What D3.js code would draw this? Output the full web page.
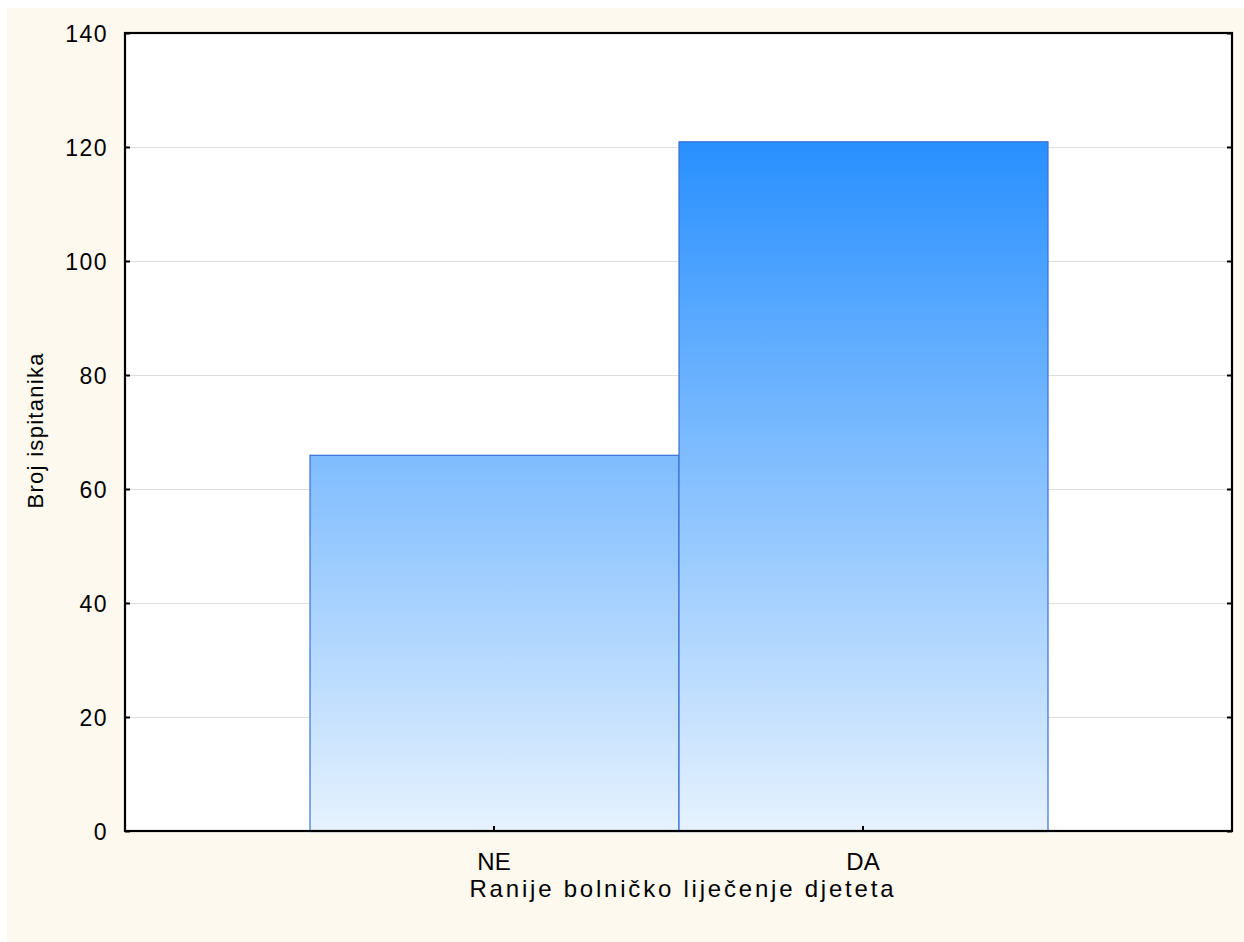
<!DOCTYPE html>
<html>
<head>
<meta charset="utf-8">
<script src="https://cdn.jsdelivr.net/npm/d3@7"></script>
<style>
  html, body { margin: 0; padding: 0; background: #ffffff; }
  svg { display: block; }
  text { font-family: "Liberation Sans", Arial, sans-serif; fill: #000; }
</style>
</head>
<body>
<svg id="chart" width="1244" height="942"></svg>
<script>
// ---- data ----
const categories = ["NE", "DA"];
const counts = [66, 121];
const yTicks = [0, 20, 40, 60, 80, 100, 120, 140];
const xTitle = "Ranije bolničko liječenje djeteta";
const yTitle = "Broj ispitanika";

// ---- layout ----
const W = 1244, H = 942;
const plot = { left: 125, top: 33, right: 1232, bottom: 831 };

const svg = d3.select("#chart");

// cream page background
svg.append("rect").attr("x", 7).attr("y", 8).attr("width", W - 7).attr("height", H - 8)
  .attr("fill", "#fdf9ee");

// plot area
svg.append("rect").attr("x", plot.left).attr("y", plot.top)
  .attr("width", plot.right - plot.left).attr("height", plot.bottom - plot.top)
  .attr("fill", "#ffffff");

const x = d3.scaleBand().domain(categories)
  .range([plot.left, plot.right]).paddingInner(0).paddingOuter(0.5);
const y = d3.scaleLinear().domain([0, 140]).range([plot.bottom, plot.top]);

// gradient
const defs = svg.append("defs");
const grad = defs.append("linearGradient").attr("id", "barGrad")
  .attr("gradientUnits", "userSpaceOnUse")
  .attr("x1", 0).attr("x2", 0).attr("y1", y(0)).attr("y2", y(140));
grad.append("stop").attr("offset", "0%").attr("stop-color", "#e6f2fe");
grad.append("stop").attr("offset", "100%").attr("stop-color", "#0a80ff");

// grid lines
svg.append("g").selectAll("line").data(yTicks.filter(d => d > 0 && d < 140)).join("line")
  .attr("x1", plot.left).attr("x2", plot.right)
  .attr("y1", d => Math.round(y(d)) + 0.5).attr("y2", d => Math.round(y(d)) + 0.5)
  .attr("stroke", "#dedede").attr("stroke-width", 1);

// bars
svg.append("g").selectAll("rect").data(categories).join("rect")
  .attr("x", d => x(d) + 0.5)
  .attr("y", (d, i) => y(counts[i]) + 0.5)
  .attr("width", x.bandwidth())
  .attr("height", (d, i) => y(0) - y(counts[i]))
  .attr("fill", "url(#barGrad)")
  .attr("stroke", "#3a6fd9").attr("stroke-width", 1.2);

// frame
svg.append("rect").attr("x", plot.left).attr("y", plot.top)
  .attr("width", plot.right - plot.left).attr("height", plot.bottom - plot.top)
  .attr("fill", "none").attr("stroke", "#000").attr("stroke-width", 2.2);

// y axis (left) ticks inward
const yAxisL = d3.axisLeft(y).tickValues(yTicks).tickSize(-5).tickPadding(17).tickFormat(d3.format("d"));
const gL = svg.append("g").attr("transform", `translate(${plot.left},0)`).call(yAxisL);
gL.select(".domain").remove();
gL.selectAll(".tick line").attr("stroke", "#000").attr("stroke-width", 2);
gL.selectAll(".tick text").attr("font-size", 23).attr("letter-spacing", "1.5px")
  .attr("font-family", "'Liberation Sans', Arial, sans-serif").attr("dy", "0.35em").attr("fill", "#000");

// y axis (right) ticks inward
const yAxisR = d3.axisRight(y).tickValues(yTicks).tickSize(-5).tickFormat("");
const gR = svg.append("g").attr("transform", `translate(${plot.right},0)`).call(yAxisR);
gR.select(".domain").remove();
gR.selectAll(".tick line").attr("stroke", "#000").attr("stroke-width", 2);

// x axis ticks inward (upward)
const xAxis = d3.axisBottom(x).tickSize(-5).tickPadding(22);
const gX = svg.append("g").attr("transform", `translate(0,${plot.bottom})`).call(xAxis);
gX.select(".domain").remove();
gX.selectAll(".tick line").attr("stroke", "#000").attr("stroke-width", 2);
gX.selectAll(".tick text").attr("font-size", 24).attr("letter-spacing", "0px")
  .attr("font-family", "'Liberation Sans', Arial, sans-serif").attr("fill", "#000");

// titles
svg.append("text").attr("x", (plot.left + plot.right) / 2 + 3).attr("y", 897)
  .attr("text-anchor", "middle").attr("font-size", 24)
  .attr("textLength", 424).attr("lengthAdjust", "spacing")
  .text(xTitle);

svg.append("text").attr("transform", `translate(43,431) rotate(-90)`)
  .attr("text-anchor", "middle").attr("font-size", 22)
  .attr("textLength", 155).attr("lengthAdjust", "spacing")
  .text(yTitle);
</script>
</body>
</html>
